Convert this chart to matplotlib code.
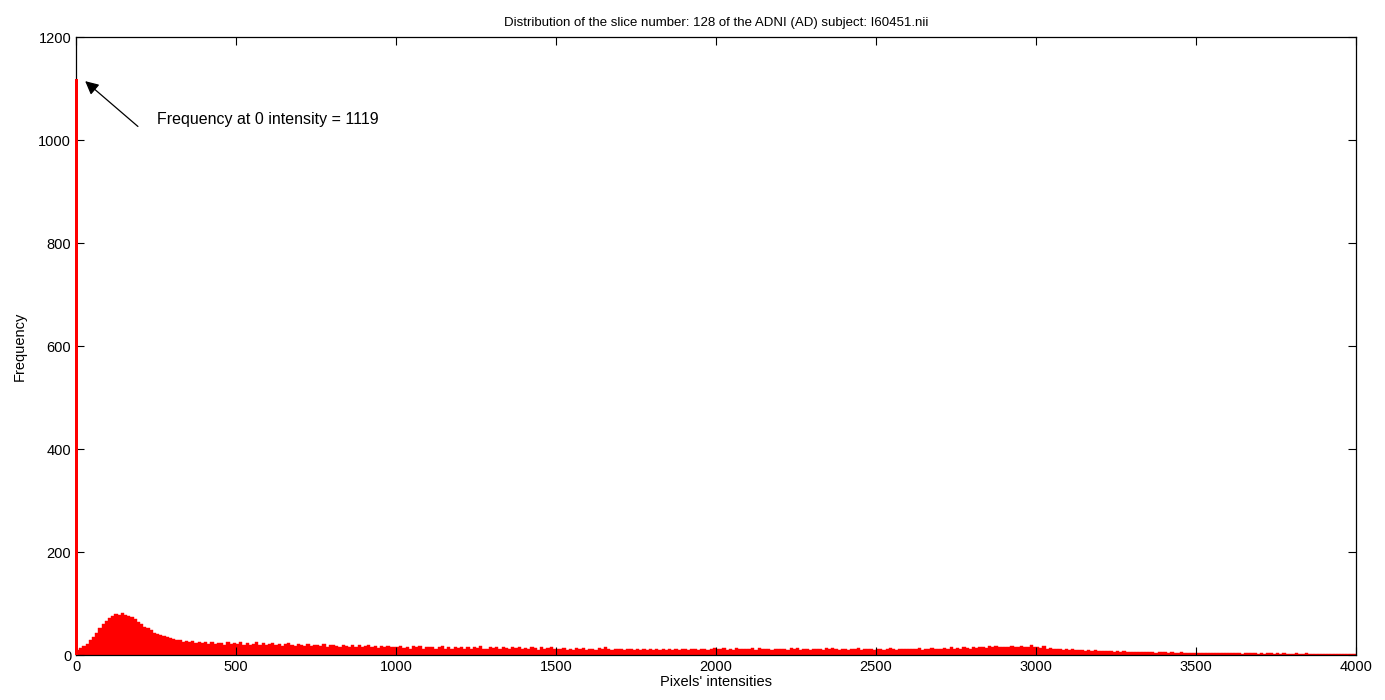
import numpy as np
from matplotlib import pyplot as plt

## Histogram values (bins of 10 intensity units)
freq_zero = 1119  # spike at intensity 0
bin_width = 10
freq = [
    11, 14, 18, 22, 30, 36, 44, 52, 60, 66,
    72, 76, 80, 78, 82, 79, 77, 74, 70, 65,
    60, 55, 52, 48, 44, 42, 40, 37, 35, 34,
    32, 29, 30, 26, 28, 25, 27, 24, 26, 23,
    25, 22, 26, 21, 24, 23, 20, 25, 22, 23,
    21, 25, 20, 24, 19, 22, 25, 20, 23, 19,
    22, 24, 19, 22, 18, 22, 23, 19, 18, 21,
    20, 18, 22, 17, 20, 19, 17, 21, 16, 19,
    19, 17, 16, 20, 18, 15, 19, 16, 19, 16,
    17, 19, 15, 17, 14, 18, 16, 18, 15, 15,
    16, 17, 14, 16, 13, 17, 15, 17, 13, 15,
    15, 16, 13, 15, 17, 13, 15, 12, 16, 14,
    15, 13, 16, 12, 15, 14, 17, 13, 12, 15,
    14, 15, 12, 16, 14, 12, 15, 14, 16, 12,
    14, 12, 15, 14, 11, 15, 13, 14, 16, 12,
    12, 13, 14, 11, 13, 11, 14, 12, 14, 11,
    13, 12, 11, 14, 12, 15, 12, 10, 13, 12,
    12, 10, 13, 12, 11, 12, 10, 13, 11, 13,
    11, 12, 10, 12, 11, 13, 10, 12, 10, 12,
    12, 11, 13, 12, 10, 12, 13, 11, 12, 14,
    13, 12, 14, 11, 13, 11, 14, 12, 13, 12,
    12, 14, 11, 14, 12, 13, 12, 10, 13, 12,
    13, 12, 11, 14, 12, 14, 11, 12, 13, 11,
    12, 13, 12, 11, 14, 12, 14, 12, 11, 13,
    12, 11, 13, 12, 14, 11, 12, 13, 12, 11,
    12, 13, 11, 12, 14, 12, 11, 13, 12, 12,
    13, 12, 12, 14, 11, 13, 12, 14, 12, 13,
    13, 14, 12, 15, 13, 14, 13, 15, 14, 13,
    15, 14, 16, 15, 14, 17, 15, 17, 15, 16,
    16, 15, 18, 16, 15, 17, 16, 15, 19, 16,
    15, 14, 17, 13, 14, 12, 13, 12, 11, 12,
    11, 12, 10, 11, 10, 9, 10, 9, 10, 9,
    9, 8, 9, 8, 7, 8, 7, 8, 7, 7,
    7, 6, 7, 6, 6, 7, 6, 5, 6, 6,
    6, 5, 6, 5, 5, 6, 5, 5, 4, 5,
    5, 4, 5, 5, 4, 5, 4, 4, 5, 4,
    4, 5, 4, 4, 3, 4, 4, 5, 4, 3,
    4, 3, 4, 4, 3, 4, 3, 4, 3, 3,
    3, 4, 3, 3, 4, 3, 3, 2, 3, 3,
    3, 2, 3, 3, 2, 3, 3, 2, 2, 3,
]
bin_starts = np.arange(len(freq)) * bin_width

plt.rcParams['font.family'] = ['Liberation Sans', 'DejaVu Sans']

fig = plt.figure(figsize=(13.85, 7), dpi=100)
ax = fig.add_axes([0.0549, 0.064, 0.9241, 0.883])

ax.bar(bin_starts, freq, width=bin_width, align='edge', color='red',
       edgecolor='red', linewidth=0.3)
## the spike at 0 is drawn over the left spine, as in the original
ax.bar([-2], [freq_zero], width=8, align='edge', color='red', linewidth=0,
       zorder=5, clip_on=False)

ax.set_xlim(0, 4000)
ax.set_ylim(0, 1200)
ax.set_xticks(np.arange(0, 4001, 500))
ax.set_yticks(np.arange(0, 1201, 200))
ax.tick_params(direction='in', top=True, right=True, length=6,
               labelsize=10.5, width=0.8)
for s in ax.spines.values():
    s.set_linewidth(0.9)

ax.set_title('Distribution of the slice number: 128 of the ADNI (AD) subject: I60451.nii',
             fontsize=9.5, pad=8)
ax.set_xlabel("Pixels' intensities", fontsize=10.5, labelpad=1)
ax.set_ylabel('Frequency', fontsize=10.5, labelpad=8)

## Arrow and note for the spike at 0
ax.annotate('', xy=(22, 1118), xytext=(200, 1023),
            arrowprops=dict(arrowstyle='-|>', color='black', lw=0.9,
                            mutation_scale=20))
ax.text(253, 1040, 'Frequency at 0 intensity = 1119', fontsize=11.5,
        va='center', ha='left')

fig.savefig('out.png', dpi=100)
